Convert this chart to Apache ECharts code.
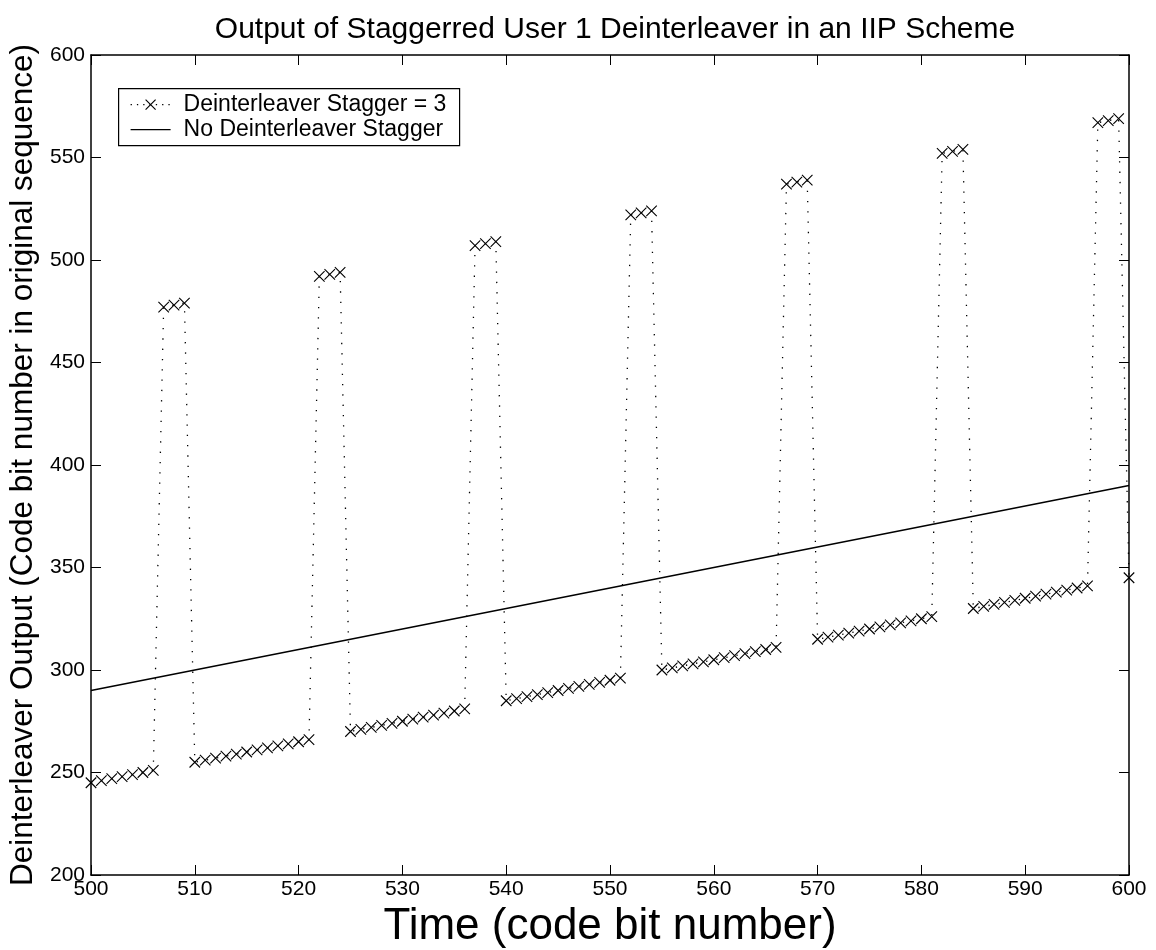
<!DOCTYPE html>
<html>
<head>
<meta charset="utf-8">
<script src="https://cdn.jsdelivr.net/npm/echarts@6/dist/echarts.min.js"></script>
<style>
  html, body { margin: 0; padding: 0; background: #fff; }
  #chart { width: 1156px; height: 950px; }
</style>
</head>
<body>
<div id="chart"></div>
<script>
// time axis (code bit number)
const timeSteps = [
  500, 501, 502, 503, 504, 505, 506, 507, 508, 509,
  510, 511, 512, 513, 514, 515, 516, 517, 518, 519,
  520, 521, 522, 523, 524, 525, 526, 527, 528, 529,
  530, 531, 532, 533, 534, 535, 536, 537, 538, 539,
  540, 541, 542, 543, 544, 545, 546, 547, 548, 549,
  550, 551, 552, 553, 554, 555, 556, 557, 558, 559,
  560, 561, 562, 563, 564, 565, 566, 567, 568, 569,
  570, 571, 572, 573, 574, 575, 576, 577, 578, 579,
  580, 581, 582, 583, 584, 585, 586, 587, 588, 589,
  590, 591, 592, 593, 594, 595, 596, 597, 598, 599, 600
];
// deinterleaver output with stagger = 3
const staggerOutput = [
  245, 246, 247, 248, 249, 250, 251, 477, 478, 479,
  255, 256, 257, 258, 259, 260, 261, 262, 263, 264,
  265, 266, 492, 493, 494, 270, 271, 272, 273, 274,
  275, 276, 277, 278, 279, 280, 281, 507, 508, 509,
  285, 286, 287, 288, 289, 290, 291, 292, 293, 294,
  295, 296, 522, 523, 524, 300, 301, 302, 303, 304,
  305, 306, 307, 308, 309, 310, 311, 537, 538, 539,
  315, 316, 317, 318, 319, 320, 321, 322, 323, 324,
  325, 326, 552, 553, 554, 330, 331, 332, 333, 334,
  335, 336, 337, 338, 339, 340, 341, 567, 568, 569, 345
];
// no stagger reference line (end points)
const noStaggerX = [500, 600];
const noStaggerY = [290, 390];

const seriesNames = ['Deinterleaver Stagger = 3', 'No Deinterleaver Stagger'];

const FONT = 'Liberation Sans, Arial, Helvetica, sans-serif';
const crossSymbol = 'path://M0,0L10,10M10,0L0,10';
const dotted = [1.3, 9];

const chart = echarts.init(document.getElementById('chart'), null, { renderer: 'canvas' });

const tickStyle = { show: true, inside: true, length: 10, lineStyle: { color: '#000', width: 1 } };
const lineStyle = { show: true, lineStyle: { color: '#000', width: 1.5 } };

// legend drawn by hand so each entry gets the right icon
const legendBox = { left: 118, top: 88, width: 341, height: 57 };
const legendGraphic = {
  type: 'group',
  left: legendBox.left,
  top: legendBox.top,
  children: [
    {
      type: 'rect',
      shape: { x: 0, y: 0, width: legendBox.width, height: legendBox.height },
      style: { fill: '#fff', stroke: '#000', lineWidth: 1.2 }
    },
    {
      type: 'line',
      shape: { x1: 12, y1: 16, x2: 52, y2: 16 },
      style: { stroke: '#000', lineWidth: 1.3, lineDash: [1.3, 5] }
    },
    {
      type: 'line',
      shape: { x1: 27, y1: 11, x2: 37, y2: 21 },
      style: { stroke: '#000', lineWidth: 1.1 }
    },
    {
      type: 'line',
      shape: { x1: 37, y1: 11, x2: 27, y2: 21 },
      style: { stroke: '#000', lineWidth: 1.1 }
    },
    {
      type: 'text',
      x: 65, y: 16,
      style: { text: seriesNames[0], fontFamily: FONT, fontSize: 23, fill: '#000', verticalAlign: 'middle' }
    },
    {
      type: 'line',
      shape: { x1: 12, y1: 41, x2: 52, y2: 41 },
      style: { stroke: '#000', lineWidth: 1.3 }
    },
    {
      type: 'text',
      x: 65, y: 41,
      style: { text: seriesNames[1], fontFamily: FONT, fontSize: 23, fill: '#000', verticalAlign: 'middle' }
    }
  ]
};

chart.setOption({
  backgroundColor: '#fff',
  animation: false,
  title: {
    text: 'Output of Staggerred User 1 Deinterleaver in an IIP Scheme',
    left: 610,
    textAlign: 'center',
    top: 10,
    textStyle: { fontFamily: FONT, fontSize: 30, fontWeight: 'normal', color: '#000' }
  },
  grid: { left: 91, right: 27, top: 55, bottom: 75, outerBoundsMode: 'none' },
  xAxis: [
    {
      type: 'value', min: 500, max: 600, interval: 10,
      name: 'Time (code bit number)', nameLocation: 'middle', nameGap: 17,
      nameTextStyle: { fontFamily: FONT, fontSize: 44, color: '#000', verticalAlign: 'top' },
      axisLine: lineStyle, axisTick: tickStyle,
      axisLabel: { fontFamily: FONT, fontSize: 21, color: '#000', margin: 4 },
      splitLine: { show: false }
    },
    {
      type: 'value', min: 500, max: 600, interval: 10, position: 'top',
      axisLine: lineStyle, axisTick: tickStyle,
      axisLabel: { show: false }, splitLine: { show: false }
    }
  ],
  yAxis: [
    {
      type: 'value', min: 200, max: 600, interval: 50,
      name: 'Deinterleaver Output (Code bit number in original sequence)',
      nameLocation: 'middle', nameGap: 50,
      nameTextStyle: { fontFamily: FONT, fontSize: 31.5, color: '#000' },
      axisLine: lineStyle, axisTick: tickStyle,
      axisLabel: { fontFamily: FONT, fontSize: 21, color: '#000', margin: 6 },
      splitLine: { show: false }
    },
    {
      type: 'value', min: 200, max: 600, interval: 50, position: 'right',
      axisLine: lineStyle, axisTick: tickStyle,
      axisLabel: { show: false }, splitLine: { show: false }
    }
  ],
  graphic: [legendGraphic],
  series: [
    {
      name: seriesNames[0],
      type: 'line',
      data: timeSteps.map((t, i) => [t, staggerOutput[i]]),
      symbol: crossSymbol,
      symbolSize: 10.5,
      showAllSymbol: true,
      clip: false,
      itemStyle: { color: 'rgba(0,0,0,0)', borderColor: '#000', borderWidth: 1.1 },
      lineStyle: { color: '#000', width: 1.3, type: dotted },
      z: 3
    },
    {
      name: seriesNames[1],
      type: 'line',
      data: noStaggerX.map((t, i) => [t, noStaggerY[i]]),
      symbol: 'none',
      lineStyle: { color: '#000', width: 1.5, type: 'solid' },
      z: 2
    }
  ]
});
</script>
</body>
</html>
